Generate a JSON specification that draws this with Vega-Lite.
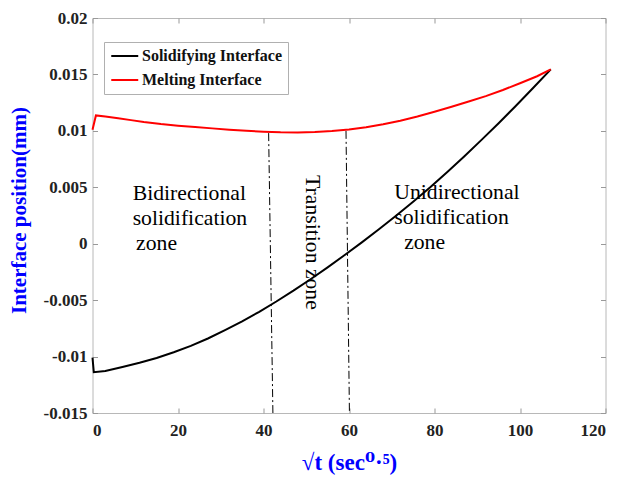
{
  "$schema": "https://vega.github.io/schema/vega-lite/v6.json",
  "width": 513,
  "height": 395,
  "autosize": {"type": "none"},
  "padding": {"left": 92.5, "top": 18, "right": 16.5, "bottom": 66},
  "background": "white",
  "config": {
    "font": "Liberation Serif",
    "view": {"stroke": "#b8b8b8", "strokeWidth": 1},
    "axis": {
      "grid": false,
      "domain": false,
      "tickColor": "#999999",
      "tickSize": -5,
      "tickWidth": 1,
      "labelFont": "Liberation Serif",
      "labelFontWeight": "bold",
      "labelFontSize": 17,
      "labelColor": "#222222",
      "titleFont": "Liberation Serif",
      "titleFontWeight": "bold",
      "titleColor": "#0000ff"
    }
  },
  "datasets": {
    "curves": [
      {"series": "Solidifying Interface", "x": 0, "y": -0.0101},
      {"series": "Solidifying Interface", "x": 0.3, "y": -0.01138},
      {"series": "Solidifying Interface", "x": 3, "y": -0.01128},
      {"series": "Solidifying Interface", "x": 7, "y": -0.01093},
      {"series": "Solidifying Interface", "x": 11, "y": -0.01055},
      {"series": "Solidifying Interface", "x": 15, "y": -0.01012},
      {"series": "Solidifying Interface", "x": 19, "y": -0.00962},
      {"series": "Solidifying Interface", "x": 23, "y": -0.00905},
      {"series": "Solidifying Interface", "x": 27, "y": -0.0084},
      {"series": "Solidifying Interface", "x": 31, "y": -0.00766},
      {"series": "Solidifying Interface", "x": 35, "y": -0.00688},
      {"series": "Solidifying Interface", "x": 39, "y": -0.00603},
      {"series": "Solidifying Interface", "x": 43, "y": -0.00512},
      {"series": "Solidifying Interface", "x": 47, "y": -0.00416},
      {"series": "Solidifying Interface", "x": 51, "y": -0.00315},
      {"series": "Solidifying Interface", "x": 55, "y": -0.0021},
      {"series": "Solidifying Interface", "x": 59, "y": -0.001},
      {"series": "Solidifying Interface", "x": 63, "y": 0.00012},
      {"series": "Solidifying Interface", "x": 67, "y": 0.00128},
      {"series": "Solidifying Interface", "x": 71, "y": 0.00248},
      {"series": "Solidifying Interface", "x": 75, "y": 0.00372},
      {"series": "Solidifying Interface", "x": 79, "y": 0.005},
      {"series": "Solidifying Interface", "x": 83, "y": 0.00635},
      {"series": "Solidifying Interface", "x": 87, "y": 0.00775},
      {"series": "Solidifying Interface", "x": 91, "y": 0.0092},
      {"series": "Solidifying Interface", "x": 95, "y": 0.01068},
      {"series": "Solidifying Interface", "x": 99, "y": 0.0122},
      {"series": "Solidifying Interface", "x": 103, "y": 0.01378},
      {"series": "Solidifying Interface", "x": 107.2, "y": 0.01545},
      {"series": "Melting Interface", "x": 0, "y": 0.0101},
      {"series": "Melting Interface", "x": 0.8, "y": 0.01137},
      {"series": "Melting Interface", "x": 3, "y": 0.01127},
      {"series": "Melting Interface", "x": 6, "y": 0.01112},
      {"series": "Melting Interface", "x": 9, "y": 0.01095},
      {"series": "Melting Interface", "x": 12, "y": 0.01078},
      {"series": "Melting Interface", "x": 16, "y": 0.0106},
      {"series": "Melting Interface", "x": 20, "y": 0.01046},
      {"series": "Melting Interface", "x": 24, "y": 0.01035},
      {"series": "Melting Interface", "x": 28, "y": 0.01022},
      {"series": "Melting Interface", "x": 32, "y": 0.0101},
      {"series": "Melting Interface", "x": 36, "y": 0.01},
      {"series": "Melting Interface", "x": 40, "y": 0.00992},
      {"series": "Melting Interface", "x": 44, "y": 0.00987},
      {"series": "Melting Interface", "x": 48, "y": 0.00986},
      {"series": "Melting Interface", "x": 52, "y": 0.0099},
      {"series": "Melting Interface", "x": 56, "y": 0.00998},
      {"series": "Melting Interface", "x": 60, "y": 0.01012},
      {"series": "Melting Interface", "x": 64, "y": 0.01032},
      {"series": "Melting Interface", "x": 68, "y": 0.01058},
      {"series": "Melting Interface", "x": 72, "y": 0.0109},
      {"series": "Melting Interface", "x": 76, "y": 0.01128},
      {"series": "Melting Interface", "x": 80, "y": 0.0117},
      {"series": "Melting Interface", "x": 84, "y": 0.01214},
      {"series": "Melting Interface", "x": 88, "y": 0.0126},
      {"series": "Melting Interface", "x": 92, "y": 0.01308},
      {"series": "Melting Interface", "x": 96, "y": 0.01362},
      {"series": "Melting Interface", "x": 100, "y": 0.01422},
      {"series": "Melting Interface", "x": 104, "y": 0.01484},
      {"series": "Melting Interface", "x": 107.2, "y": 0.01545}
    ],
    "bounds": [
      {"x": 41.2, "y": 0.0098, "x2": 42.2, "y2": -0.015},
      {"x": 59.3, "y": 0.01, "x2": 60.1, "y2": -0.015}
    ],
    "zones": [
      {"label": "Bidirectional", "x": 9.4, "y": 0.003865},
      {"label": "solidification", "x": 9.4, "y": 0.001649},
      {"label": "zone", "x": 10.2, "y": -0.000567},
      {"label": "Unidirectional", "x": 70.6, "y": 0.003927},
      {"label": "solidification", "x": 70.6, "y": 0.001711},
      {"label": "zone", "x": 72.9, "y": -0.000505}
    ],
    "transition": [
      {"label": "Transition zone", "x": 51.5, "y": 0.00608}
    ]
  },
  "layer": [
    {
      "data": {"name": "bounds"},
      "mark": {"type": "rule", "color": "#000000", "strokeWidth": 1, "strokeDash": [8, 3, 2, 3]},
      "encoding": {
        "x": {"field": "x", "type": "quantitative", "scale": {"domain": [0, 120], "nice": false},
          "axis": {"orient": "top", "labels": false, "title": null, "tickSize": -5, "tickColor": "#999999", "values": [0, 20, 40, 60, 80, 100, 120]}},
        "x2": {"field": "x2"},
        "y": {"field": "y", "type": "quantitative", "scale": {"domain": [-0.015, 0.02], "nice": false},
          "axis": {"orient": "right", "labels": false, "title": null, "tickSize": -5, "tickColor": "#999999", "values": [-0.015, -0.01, -0.005, 0, 0.005, 0.01, 0.015, 0.02]}},
        "y2": {"field": "y2"}
      }
    },
    {
      "data": {"name": "curves"},
      "mark": {"type": "line", "strokeWidth": 2},
      "encoding": {
        "x": {"field": "x", "type": "quantitative", "scale": {"domain": [0, 120], "nice": false},
          "axis": {"orient": "bottom", "values": [0, 20, 40, 60, 80, 100, 120], "labelPadding": 14,
            "labelFont": "Liberation Serif", "labelFontWeight": "bold", "labelFontSize": 17, "labelColor": "#222222",
            "title": "√t (sec⁰·⁵)", "titleFont": "Liberation Serif, DejaVu Serif", "titleFontSize": 23, "titleBaseline": "alphabetic", "titleY": 56, "titleX": 256.5}},
        "y": {"field": "y", "type": "quantitative", "scale": {"domain": [-0.015, 0.02], "nice": false},
          "axis": {"orient": "left", "values": [-0.015, -0.01, -0.005, 0, 0.005, 0.01, 0.015, 0.02], "labelPadding": 10.5,
            "labelExpr": "'' + datum.value",
            "labelFont": "Liberation Serif", "labelFontWeight": "bold", "labelFontSize": 17, "labelColor": "#222222",
            "title": "Interface position(mm)", "titleFontSize": 21, "titleBaseline": "alphabetic", "titleX": -67.5, "titleY": 192, "titleAngle": -90, "titleAlign": "center"}},
        "color": {"field": "series", "type": "nominal",
          "scale": {"domain": ["Solidifying Interface", "Melting Interface"], "range": ["#000000", "#ff0000"]},
          "legend": {"orient": "none", "legendX": 11.5, "legendY": 24, "title": null,
            "symbolType": "M-1,0H3", "symbolSize": 182, "symbolStrokeWidth": 2,
            "labelFont": "Liberation Serif", "labelFontWeight": "bold", "labelFontSize": 16, "labelColor": "#111111",
            "labelOffset": 16, "rowPadding": 8, "padding": 6,
            "strokeColor": "#b0b0b0", "fillColor": "#ffffff"}}
      }
    },
    {
      "data": {"name": "zones"},
      "mark": {"type": "text", "font": "Liberation Serif", "fontSize": 21.7, "align": "left", "baseline": "alphabetic", "color": "#000000"},
      "encoding": {
        "x": {"field": "x", "type": "quantitative", "scale": {"domain": [0, 120], "nice": false}, "axis": null},
        "y": {"field": "y", "type": "quantitative", "scale": {"domain": [-0.015, 0.02], "nice": false}, "axis": null},
        "text": {"field": "label", "type": "nominal"}
      }
    },
    {
      "data": {"name": "transition"},
      "mark": {"type": "text", "font": "Liberation Serif", "fontSize": 21.7, "align": "left", "baseline": "middle", "angle": 90, "color": "#000000"},
      "encoding": {
        "x": {"field": "x", "type": "quantitative", "scale": {"domain": [0, 120], "nice": false}, "axis": null},
        "y": {"field": "y", "type": "quantitative", "scale": {"domain": [-0.015, 0.02], "nice": false}, "axis": null},
        "text": {"field": "label", "type": "nominal"}
      }
    }
  ],
  "resolve": {"axis": {"x": "independent", "y": "independent"}}
}
